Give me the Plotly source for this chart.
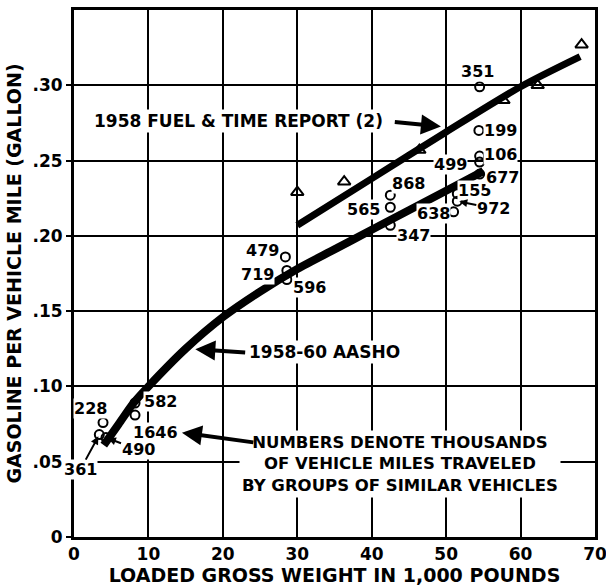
import plotly.graph_objects as go

# ---------------- data ----------------
# 1958-60 AASHO curve (thousand lb, gallon per vehicle mile)
aasho_x = [4, 6, 8, 10, 15, 20, 25, 30, 35, 40, 45, 50, 55]
aasho_y = [0.061, 0.075, 0.089, 0.100, 0.125, 0.146, 0.163, 0.178, 0.191, 0.204, 0.217, 0.230, 0.243]

# 1958 Fuel & Time Report curve
fuel_x = [30, 40, 50, 60, 68]
fuel_y = [0.207, 0.238, 0.269, 0.299, 0.319]

# Fuel & Time report points (triangles)
tri_x = [30.0, 36.3, 46.4, 57.7, 62.3, 68.2]
tri_y = [0.229, 0.236, 0.257, 0.290, 0.300, 0.327]

# AASHO groups (circles) with thousands of vehicle miles
circ_x = [3.9, 3.4, 4.3, 8.2, 8.2, 28.4, 28.6, 28.6, 42.5, 42.5, 42.5,
          51.0, 51.5, 51.5, 54.5, 54.5, 54.5, 54.4, 54.5]
circ_y = [0.076, 0.068, 0.066, 0.089, 0.081, 0.186, 0.177, 0.171, 0.219, 0.227, 0.207,
          0.216, 0.228, 0.223, 0.253, 0.249, 0.241, 0.270, 0.299]
circ_lbl = ["228", "361", "490", "582", "1646", "479", "719", "596", "565", "868", "347",
            "638", "155", "972", "499", "106", "677", "199", "351"]

x_ticks = [0, 10, 20, 30, 40, 50, 60, 70]
y_ticks = [0, 0.05, 0.10, 0.15, 0.20, 0.25, 0.30]
y_tick_text = ["0", ".05", ".10", ".15", ".20", ".25", ".30"]

x_title = "LOADED GROSS WEIGHT IN 1,000 POUNDS"
y_title = "GASOLINE PER VEHICLE MILE (GALLON)"
fuel_note = "1958 FUEL & TIME REPORT (2)"
aasho_note = "1958-60 AASHO"
numbers_note = "NUMBERS DENOTE THOUSANDS<br>OF VEHICLE MILES TRAVELED<br>BY GROUPS OF SIMILAR VEHICLES"

X_RANGE = [0, 70]
Y_RANGE = [0, 0.35]

# ---------------- style ----------------
FONT = "DejaVu Sans"
# label offsets in pixels (dx right, dy up); arrow labels use (ax, ay) pixel tail offsets
label_shift = {
    "228": (-13, 14), "582": (25, 1), "1646": (20, -17), "479": (-23, 6),
    "719": (-29, -4), "596": (23, -8), "565": (-27, -2), "868": (18, 12),
    "347": (23, -10), "638": (-20, -2), "155": (17, 3), "499": (-29, -8),
    "106": (21, 8), "677": (23, -3), "199": (22, 0), "351": (-2, 15),
}
label_arrow = {"361": (-19, 35), "490": (32, 12), "972": (36, 7)}

fig = go.Figure()

fig.add_trace(go.Scatter(x=aasho_x, y=aasho_y, mode="lines",
                         line=dict(color="black", width=8, shape="spline", smoothing=0.8),
                         showlegend=False, hoverinfo="skip"))
fig.add_trace(go.Scatter(x=fuel_x, y=fuel_y, mode="lines",
                         line=dict(color="black", width=7, shape="spline", smoothing=0.8),
                         showlegend=False, hoverinfo="skip"))
fig.add_trace(go.Scatter(x=circ_x, y=circ_y, mode="markers",
                         marker=dict(symbol="circle-open", size=9, color="black",
                                     line=dict(width=2, color="black")),
                         showlegend=False))
fig.add_trace(go.Scatter(x=tri_x, y=tri_y, mode="markers",
                         marker=dict(symbol="triangle-up-open", size=11, color="black",
                                     line=dict(width=2, color="black")),
                         showlegend=False))

lbl_font = dict(family=FONT, size=16, color="black", weight="bold")
for x, y, t in zip(circ_x, circ_y, circ_lbl):
    if t in label_shift:
        dx, dy = label_shift[t]
        fig.add_annotation(x=x, y=y, text=t, showarrow=False, xshift=dx, yshift=dy,
                           font=lbl_font, bgcolor="white", borderpad=0)
    else:
        ax, ay = label_arrow[t]
        fig.add_annotation(x=x, y=y, text=t, showarrow=True, ax=ax, ay=ay,
                           arrowhead=2, arrowsize=0.8, arrowwidth=2, arrowcolor="black",
                           standoff=2, font=lbl_font, bgcolor="white", borderpad=0)

note_font = dict(family=FONT, size=17, color="black", weight="bold")
# 1958 Fuel & Time report label and arrow
fig.add_annotation(x=22.1, y=0.276, text=fuel_note, showarrow=False,
                   font=note_font, bgcolor="white", borderpad=1)
fig.add_annotation(x=49.3, y=0.2727, ax=42.9, ay=0.2757, axref="x", ayref="y",
                   text="", showarrow=True, arrowhead=2, arrowsize=1, arrowwidth=4,
                   arrowcolor="black")
# AASHO label and arrow
fig.add_annotation(x=23.3, y=0.1227, text=aasho_note, showarrow=False, xanchor="left",
                   font=note_font, bgcolor="white", borderpad=1)
fig.add_annotation(x=16.3, y=0.1247, ax=23.2, ay=0.1225, axref="x", ayref="y",
                   text="", showarrow=True, arrowhead=2, arrowsize=1, arrowwidth=4,
                   arrowcolor="black")
# note block and arrow
fig.add_annotation(x=43.8, y=0.0487, text=numbers_note,
                   showarrow=False, align="center",
                   font=dict(family=FONT, size=16.5, color="black", weight="bold"),
                   bgcolor="white", borderpad=2)
fig.add_annotation(x=14.5, y=0.0693, ax=24.3, ay=0.0627, axref="x", ayref="y",
                   text="", showarrow=True, arrowhead=2, arrowsize=1, arrowwidth=4,
                   arrowcolor="black")

axis_common = dict(showline=True, linewidth=3, linecolor="black", mirror=True,
                   showgrid=True, gridcolor="black", gridwidth=2,
                   zeroline=False, automargin=False, ticklabeloverflow="allow",
                   tickfont=dict(family=FONT, size=17, color="black", weight="bold"))

fig.update_xaxes(range=X_RANGE, tickvals=x_ticks, ticks="",
                 title=dict(text=x_title, standoff=6,
                            font=dict(family=FONT, size=19, color="black", weight="bold")),
                 **axis_common)
fig.update_yaxes(range=Y_RANGE, tickvals=y_ticks, ticktext=y_tick_text,
                 ticks="outside", ticklen=5, tickwidth=2, tickcolor="black",
                 title=dict(text=y_title, standoff=6,
                            font=dict(family=FONT, size=19, color="black", weight="bold")),
                 **axis_common)

fig.update_layout(width=606, height=587, margin=dict(l=74, r=11, t=10, b=50),
                  plot_bgcolor="white", paper_bgcolor="white", showlegend=False)

fig.write_html("out.html")
